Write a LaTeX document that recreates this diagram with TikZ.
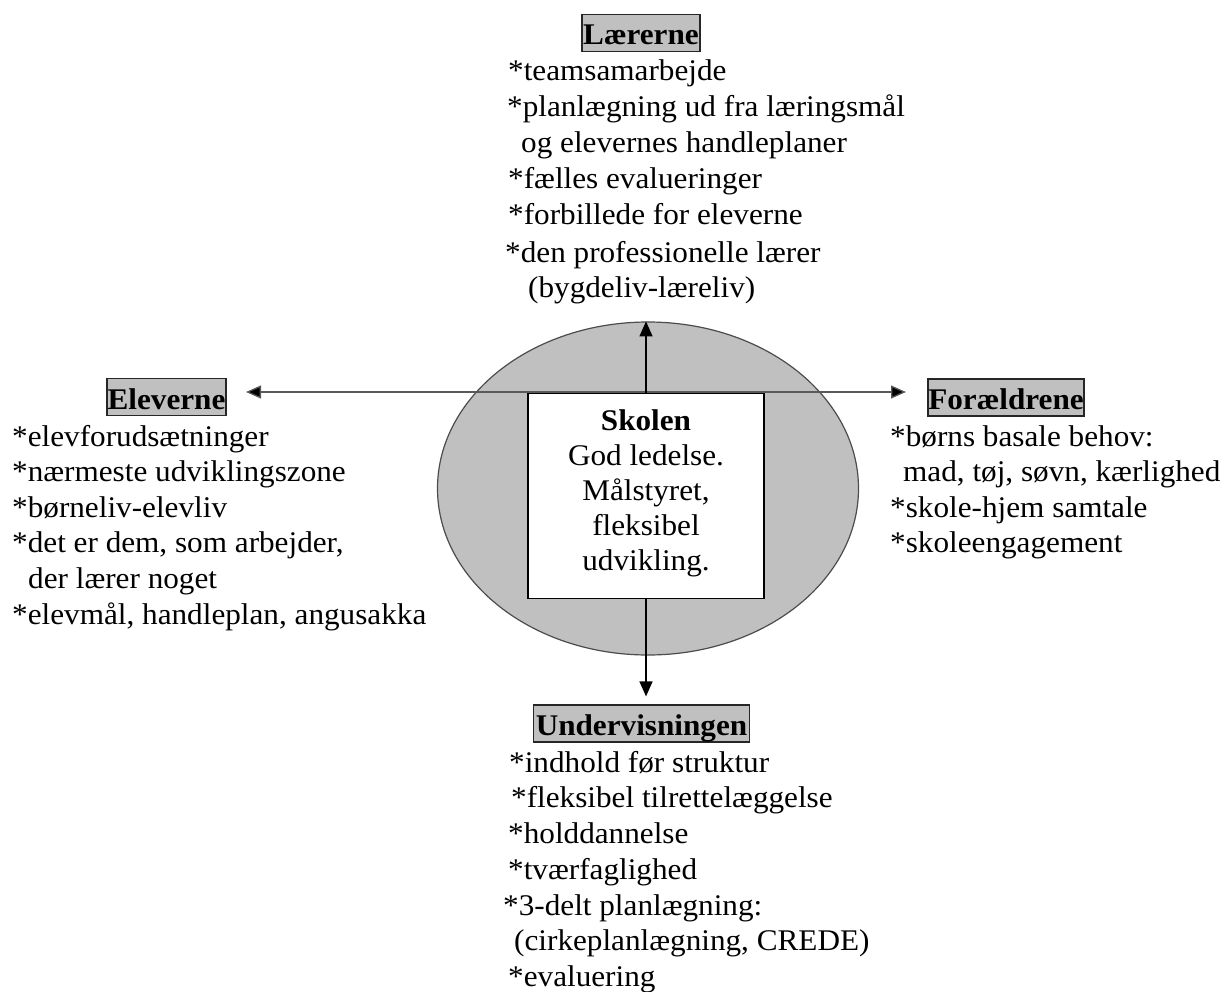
\documentclass[tikz,border=0pt]{standalone}
\usepackage{fontspec}
\setmainfont[FakeStretch=1.04]{Liberation Serif}
\usetikzlibrary{arrows.meta,shapes.geometric}
\definecolor{boxgray}{HTML}{C0C0C0}
\begin{document}
\begin{tikzpicture}[x=1pt,y=-1pt,
  txt/.style={font=\fontsize{30}{35.5}\selectfont, inner sep=0pt, anchor=base west},
  titlebox/.style={draw=black!85, line width=1.2pt, fill=boxgray,
    font=\fontsize{30}{36}\selectfont\bfseries, inner sep=0pt,
    minimum height=37pt, text height=27pt, text depth=3pt},
  arr/.style={draw=black, line width=1.3pt, -{Triangle[length=15pt,width=13pt]}},
  hline/.style={draw=black!65, line width=1.3pt, -{Triangle[length=15pt,width=13pt,fill=black]}}]
\useasboundingbox (0,0) rectangle (1225,992);

% centre
\node[ellipse, draw=black!70, line width=1.2pt, fill=boxgray, minimum width=421pt,
  minimum height=333pt, inner sep=0pt] (ell) at (648,488.5) {};
\coordinate (hub) at (646,392);
\coordinate (ltip) at (246,392);
\coordinate (rtip) at (906,392);
\draw[hline] (hub) -- (ltip);
\draw[hline] (hub) -- (rtip);
\node[draw=black, fill=white, line width=1.5pt, minimum width=236pt,
  minimum height=205pt, inner sep=0pt] (school) at (646,496) {};
\node[font=\fontsize{30}{35}\selectfont, align=center, inner sep=0pt] (skoltxt)
  at ([yshift=2.5pt]school.center)
  {\textbf{Skolen}\\God ledelse.\\Målstyret,\\fleksibel\\udvikling.};

% title boxes
\node[titlebox, minimum width=118pt] (laer) at (641,33) {Lærerne};
\node[titlebox, minimum width=119pt] (elev) at (166.5,397) {Eleverne};
\node[titlebox, minimum width=156pt] (foral) at (1006,397.5) {Forældrene};
\node[titlebox, minimum width=216pt] (under) at (641.5,723.5) {Undervisningen};

% vertical arrows
\draw[arr] (school.north) -- (school.north |- ell.north);
\draw[arr, shorten >=8pt] (school.south) -- (school.south |- under.north);

% Lærerne
\node[txt] (l1) at (508,81) {*teamsamarbejde};
\node[txt] (l2) at (507,117) {*planlægning ud fra læringsmål};
\node[txt] (l3) at (521,153) {og elevernes handleplaner};
\node[txt] (l4) at (508,189) {*fælles evalueringer};
\node[txt] (l5) at (508,225) {*forbillede for eleverne};
\node[txt] (l6) at (505,262) {*den professionelle lærer};
\node[txt] (l7) at (528,297) {(bygdeliv-læreliv)};

% Eleverne
\node[txt] (e1) at (12,446) {*elevforudsætninger};
\node[txt] (e2) at (12,481) {*nærmeste udviklingszone};
\node[txt] (e3) at (12,517) {*børneliv-elevliv};
\node[txt] (e4) at (12,552) {*det er dem, som arbejder,};
\node[txt] (e5) at (28,588) {der lærer noget};
\node[txt] (e6) at (12,624) {*elevmål, handleplan, angusakka};

% Forældrene
\node[txt] (f1) at (890,446) {*børns basale behov:};
\node[txt] (f2) at (903,481) {mad, tøj, søvn, kærlighed};
\node[txt] (f3) at (890,517) {*skole-hjem samtale};
\node[txt] (f4) at (890,552) {*skoleengagement};

% Undervisningen
\node[txt] (u1) at (509,772) {*indhold før struktur};
\node[txt] (u2) at (511,807) {*fleksibel tilrettelæggelse};
\node[txt] (u3) at (508,843) {*holddannelse};
\node[txt] (u4) at (508,879) {*tværfaglighed};
\node[txt] (u5) at (503,915) {*3-delt planlægning:};
\node[txt] (u6) at (514,950) {(cirkeplanlægning, CREDE)};
\node[txt] (u7) at (508,986) {*evaluering};
\end{tikzpicture}
\end{document}
